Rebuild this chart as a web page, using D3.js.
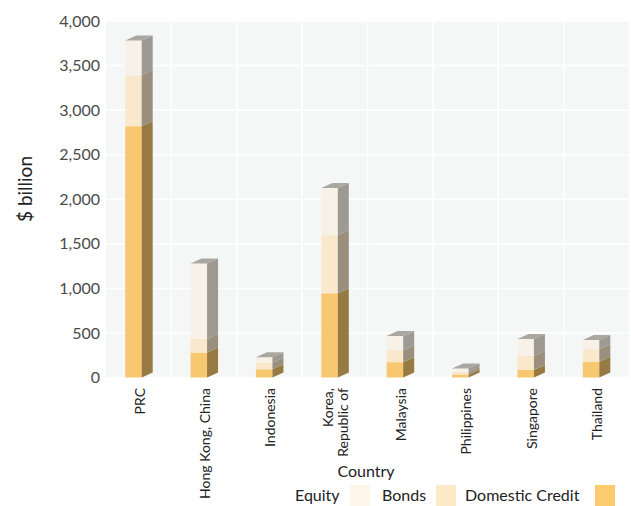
<!DOCTYPE html>
<html>
<head>
<meta charset="utf-8">
<script src="https://cdn.jsdelivr.net/npm/d3@7"></script>
<style>
  html, body { margin: 0; padding: 0; background: #ffffff; }
  svg { display: block; }
</style>
</head>
<body>
<svg id="chart" width="631" height="506"></svg>
<script>
// ---- data ----
const categories = ["PRC", "Hong Kong, China", "Indonesia", "Korea, Republic of", "Malaysia", "Philippines", "Singapore", "Thailand"];
const domesticCredit = [2820, 280, 92, 945, 172, 35, 85, 178];
const bonds = [570, 153, 74, 652, 135, 28, 157, 139];
const equity = [390, 845, 61, 528, 160, 37, 191, 104];
const yTicks = [0, 500, 1000, 1500, 2000, 2500, 3000, 3500, 4000];
const seriesNames = ["Equity", "Bonds", "Domestic Credit"];

// ---- layout ----
const W = 631, H = 506;
const plot = { left: 106, right: 629, top: 21, bottom: 377.5 };
const svg = d3.select("#chart");
const font = "Lato, 'Open Sans', sans-serif";

const x = d3.scaleBand().domain(categories).range([plot.left, plot.right]).padding(0);
const y = d3.scaleLinear().domain([0, 4000]).range([plot.bottom, plot.top]);

// background
svg.append("rect")
  .attr("x", plot.left).attr("y", plot.top)
  .attr("width", plot.right - plot.left).attr("height", plot.bottom - plot.top)
  .attr("fill", "#f5f6f6");

// grid lines
svg.append("g").selectAll("line.h").data(yTicks).join("line")
  .attr("x1", plot.left).attr("x2", plot.right)
  .attr("y1", d => y(d)).attr("y2", d => y(d))
  .attr("stroke", "#ffffff").attr("stroke-width", 1.5);
svg.append("g").selectAll("line.v").data(categories.slice(1)).join("line")
  .attr("x1", d => x(d)).attr("x2", d => x(d))
  .attr("y1", plot.top).attr("y2", plot.bottom)
  .attr("stroke", "#ffffff").attr("stroke-width", 1.5);

// y axis labels
const yAxis = d3.axisLeft(y).tickValues(yTicks).tickSize(0).tickPadding(6)
  .tickFormat(d3.format(","));
const gy = svg.append("g").attr("transform", `translate(${plot.left},0)`).call(yAxis);
gy.select(".domain").remove();
gy.selectAll("text").attr("font-family", font).attr("font-size", 16).attr("fill", "#4a4a4a");

// y title
svg.append("text")
  .attr("transform", `translate(32,189) rotate(-90)`)
  .attr("text-anchor", "middle")
  .attr("font-family", font).attr("font-size", 19).attr("fill", "#222")
  .text("$ billion");

// ---- 3D stacked bars ----
const colors = {
  "Domestic Credit": { front: "#f8c870", side: "#967a42" },
  "Bonds": { front: "#f9e8cc", side: "#9a8f7c" },
  "Equity": { front: "#f8f1e8", side: "#9d9993" }
};
const topColor = "#aaa7a1";
const dx = 11, dyDepth = -5;
const frontOff = -13.5, frontW = 16.5;

const bars = svg.append("g");
categories.forEach((c, i) => {
  const cx = x(c) + x.bandwidth() / 2;
  const x0 = cx + frontOff, x1 = x0 + frontW;
  const segs = [
    { name: "Domestic Credit", v: domesticCredit[i] },
    { name: "Bonds", v: bonds[i] },
    { name: "Equity", v: equity[i] }
  ];
  let base = 0;
  const g = bars.append("g");
  segs.forEach(s => {
    const yb = y(base), yt = y(base + s.v);
    g.append("rect").attr("x", x0).attr("y", yt).attr("width", frontW).attr("height", yb - yt)
      .attr("fill", colors[s.name].front);
    g.append("path")
      .attr("d", `M${x1},${yb}L${x1 + dx},${yb + dyDepth}L${x1 + dx},${yt + dyDepth}L${x1},${yt}Z`)
      .attr("fill", colors[s.name].side);
    base += s.v;
  });
  const ytop = y(base);
  g.append("path")
    .attr("d", `M${x0},${ytop}L${x1},${ytop}L${x1 + dx},${ytop + dyDepth}L${x0 + dx},${ytop + dyDepth}Z`)
    .attr("fill", topColor);
});

// x labels
const xl = svg.append("g");
categories.forEach(c => {
  const cx = x(c) + x.bandwidth() / 2;
  const lines = c === "Korea, Republic of" ? ["Korea,", "Republic of"] : [c];
  lines.forEach((ln, k) => {
    const off = lines.length === 1 ? 0 : (k === 0 ? -8 : 7);
    xl.append("text")
      .attr("transform", `translate(${cx + off + 1},388) rotate(-90)`)
      .attr("text-anchor", "end").attr("dy", "0.35em")
      .attr("font-family", font).attr("font-size", 14).attr("fill", "#222")
      .text(ln);
  });
});

// x title
svg.append("text").attr("x", 366).attr("y", 477).attr("text-anchor", "middle")
  .attr("font-family", font).attr("font-size", 16).attr("fill", "#222").text("Country");

// legend
const legendItems = [
  { name: "Equity", tx: 295, sx: 350, color: "#fef6ea" },
  { name: "Bonds", tx: 382, sx: 436, color: "#fee9c9" },
  { name: "Domestic Credit", tx: 465, sx: 595, color: "#fdcb6f" }
];
const lg = svg.append("g");
legendItems.forEach(d => {
  lg.append("text").attr("x", d.tx).attr("y", 501)
    .attr("font-family", font).attr("font-size", 16).attr("fill", "#222").text(d.name);
  lg.append("rect").attr("x", d.sx).attr("y", 485).attr("width", 20).attr("height", 21).attr("fill", d.color);
});
</script>
</body>
</html>
